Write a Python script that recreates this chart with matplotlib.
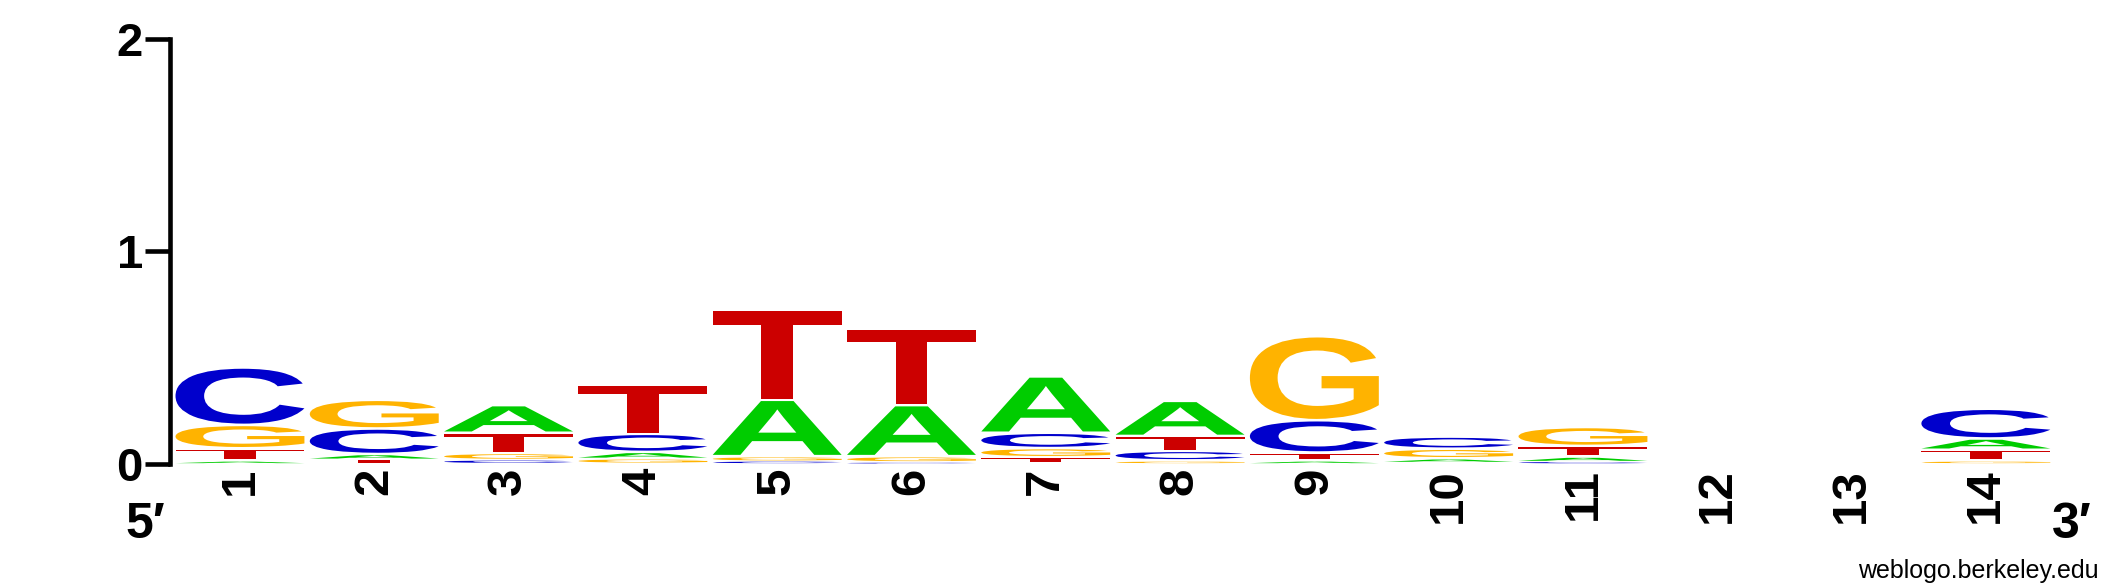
import matplotlib
matplotlib.use("Agg")
import matplotlib.pyplot as plt
import matplotlib.transforms as mtransforms
from matplotlib.textpath import TextPath
from matplotlib.patches import PathPatch
from matplotlib.font_manager import FontProperties

# ---- data (information content in bits per base at each position) ----
positions = list(range(1, 15))
tick_labels = [str(p) for p in positions]
bases = ["A", "C", "G", "T"]
A_bits = [0.010, 0.022, 0.130, 0.030, 0.265, 0.240, 0.265, 0.165, 0.010, 0.015, 0.020, 0.0, 0.0, 0.053]
C_bits = [0.270, 0.120, 0.015, 0.085, 0.010, 0.005, 0.072, 0.045, 0.152, 0.057, 0.008, 0.0, 0.0, 0.140]
G_bits = [0.110, 0.135, 0.030, 0.020, 0.020, 0.025, 0.043, 0.010, 0.395, 0.045, 0.089, 0.0, 0.0, 0.010]
T_bits = [0.057, 0.018, 0.095, 0.230, 0.425, 0.360, 0.025, 0.070, 0.037, 0.005, 0.050, 0.0, 0.0, 0.050]
y_ticks = [0, 1, 2]

colors = {"A": "#00CC00", "C": "#0000CC", "G": "#FFB300", "T": "#CC0000"}

W, H = 2125, 588
fig = plt.figure(figsize=(W / 100, H / 100), dpi=100)
ax_left, ax_right = 170, 2053
y0_px, y2_px = 463.8, 38.5
ax = fig.add_axes([ax_left / W, (H - y0_px) / H, (ax_right - ax_left) / W, (y0_px - y2_px) / H])
ax.set_xlim(0.479, 14.5)
ax.set_ylim(0, 2)

for s in ["top", "right", "bottom"]:
    ax.spines[s].set_visible(False)
ax.spines["left"].set_linewidth(3.3)

bold = FontProperties(family=["Liberation Sans", "DejaVu Sans"], weight="bold")
ax.set_yticks(y_ticks)
ax.set_yticklabels([str(t) for t in y_ticks], fontproperties=bold, fontsize=34)
ax.tick_params(axis="y", length=18, width=3.3, pad=1.5)
ax.set_xticks(positions)
ax.set_xticklabels(tick_labels, rotation=90, fontproperties=bold, fontsize=35.5)
ax.tick_params(axis="x", length=0, pad=3)

# glyph outlines
fp = FontProperties(family="Liberation Sans", weight="bold")
glyphs = {}
for b in bases:
    p = TextPath((0, 0), b, size=1, prop=fp)
    glyphs[b] = (p, p.get_extents())


def draw_letter(b, x0, y0, w, h):
    p, ext = glyphs[b]
    tr = (mtransforms.Affine2D()
          .translate(-ext.x0, -ext.y0)
          .scale(w / ext.width, h / ext.height)
          .translate(x0, y0))
    ax.add_patch(PathPatch(tr.transform_path(p), facecolor=colors[b],
                           edgecolor="none", lw=0))


table = {"A": A_bits, "C": C_bits, "G": G_bits, "T": T_bits}
letter_w = 0.96
gap = 0.012
for i, pos in enumerate(positions):
    col = sorted([(table[b][i], b) for b in bases])
    y = 0.0
    for h, b in col:
        if h > 0:
            g = min(gap, 0.3 * h)
            draw_letter(b, pos - letter_w / 2, y + g, letter_w, h - g)
        y += h

fig.text(125 / W, 1 - 538 / H, "5\u2032", fontproperties=bold, fontsize=36,
         ha="left", va="baseline")
fig.text(2092 / W, 1 - 538 / H, "3\u2032", fontproperties=bold, fontsize=36,
         ha="right", va="baseline")
fig.text(2099 / W, 1 - 578 / H, "weblogo.berkeley.edu",
         family=["Liberation Sans", "DejaVu Sans"], fontsize=18,
         ha="right", va="baseline")

fig.savefig("out.png", dpi=100)
